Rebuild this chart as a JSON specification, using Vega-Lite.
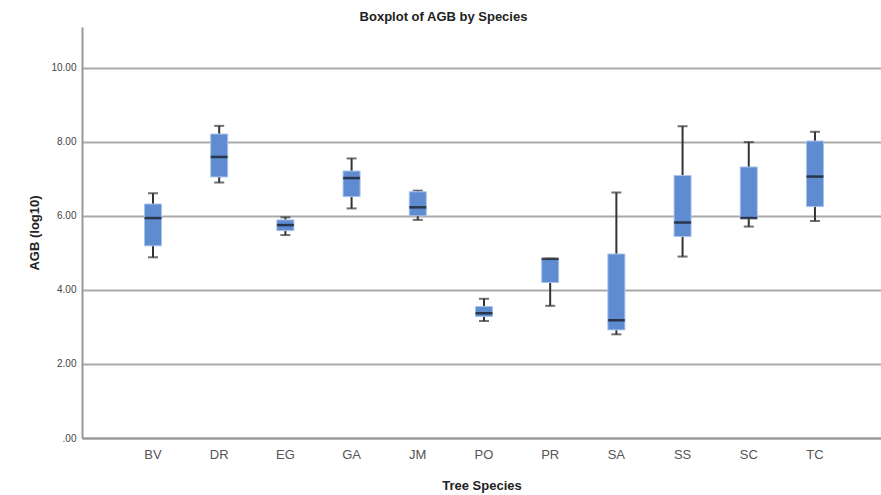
{
  "$schema": "https://vega.github.io/schema/vega-lite/v6.json",
  "width": 799,
  "height": 411,
  "autosize": {"type": "none"},
  "padding": {"left": 82, "top": 27, "right": 0, "bottom": 57},
  "background": "white",
  "title": {"text": "Boxplot of AGB by Species", "font": "Liberation Sans", "fontSize": 13, "fontWeight": "bold", "color": "#222", "anchor": "middle", "frame": "group", "offset": 3, "dx": -38},
  "config": {"view": {"stroke": null}},
  "data": {"values": [
    {"species": "BV", "lo": 4.88, "q1": 5.19, "med": 5.94, "q3": 6.32, "hi": 6.61},
    {"species": "DR", "lo": 6.90, "q1": 7.05, "med": 7.59, "q3": 8.21, "hi": 8.43},
    {"species": "EG", "lo": 5.48, "q1": 5.60, "med": 5.75, "q3": 5.89, "hi": 5.96},
    {"species": "GA", "lo": 6.20, "q1": 6.52, "med": 7.02, "q3": 7.21, "hi": 7.55},
    {"species": "JM", "lo": 5.89, "q1": 6.00, "med": 6.23, "q3": 6.65, "hi": 6.68},
    {"species": "PO", "lo": 3.16, "q1": 3.28, "med": 3.37, "q3": 3.55, "hi": 3.76},
    {"species": "PR", "lo": 3.57, "q1": 4.20, "med": 4.84, "q3": 4.84, "hi": 4.84},
    {"species": "SA", "lo": 2.80, "q1": 2.92, "med": 3.18, "q3": 4.97, "hi": 6.63},
    {"species": "SS", "lo": 4.90, "q1": 5.44, "med": 5.82, "q3": 7.09, "hi": 8.42},
    {"species": "SC", "lo": 5.71, "q1": 5.92, "med": 5.94, "q3": 7.32, "hi": 7.99},
    {"species": "TC", "lo": 5.86, "q1": 6.25, "med": 7.06, "q3": 8.02, "hi": 8.27}
  ]},
  "encoding": {
    "x": {
      "field": "species", "type": "nominal", "sort": null,
      "scale": {"paddingInner": 0, "paddingOuter": 0.535, "align": 0.535},
      "axis": {"title": "Tree Species", "labelAngle": 0, "ticks": false, "grid": false,
        "domainColor": "#999", "domainWidth": 2, "labelFont": "Liberation Sans", "labelFontSize": 13,
        "labelColor": "#555", "labelPadding": 10, "titleFont": "Liberation Sans", "titleFontSize": 13,
        "titleFontWeight": "bold", "titleColor": "#222", "titlePadding": 18}
    }
  },
  "layer": [
    {
      "mark": {"type": "rule", "color": "#333", "strokeWidth": 2},
      "encoding": {
        "y": {"field": "lo", "type": "quantitative",
          "scale": {"domain": [0, 11.1], "nice": false},
          "axis": {"title": "AGB (log10)", "values": [0, 2, 4, 6, 8, 10], "ticks": false,
            "grid": true, "gridColor": "#aaa", "gridWidth": 2,
            "domainColor": "#999", "domainWidth": 2,
            "labelExpr": "datum.value == 0 ? '.00' : format(datum.value, '.2f')",
            "labelFont": "Liberation Sans", "labelFontSize": 10, "labelColor": "#444", "labelPadding": 6,
            "titleFont": "Liberation Sans", "titleFontSize": 13, "titleFontWeight": "bold", "titleColor": "#222", "titlePadding": 9}},
        "y2": {"field": "hi"}
      }
    },
    {
      "mark": {"type": "tick", "color": "#333", "size": 10, "thickness": 2, "orient": "horizontal"},
      "encoding": {"y": {"field": "lo", "type": "quantitative"}}
    },
    {
      "mark": {"type": "tick", "color": "#333", "size": 10, "thickness": 2, "orient": "horizontal"},
      "encoding": {"y": {"field": "hi", "type": "quantitative"}}
    },
    {
      "mark": {"type": "bar", "size": 17, "color": "#5f8bd1", "stroke": "#a8c3ec", "strokeWidth": 1},
      "encoding": {"y": {"field": "q1", "type": "quantitative"}, "y2": {"field": "q3"}}
    },
    {
      "mark": {"type": "tick", "color": "#111", "size": 17, "thickness": 2.5, "orient": "horizontal"},
      "encoding": {"y": {"field": "med", "type": "quantitative"}}
    }
  ]
}
